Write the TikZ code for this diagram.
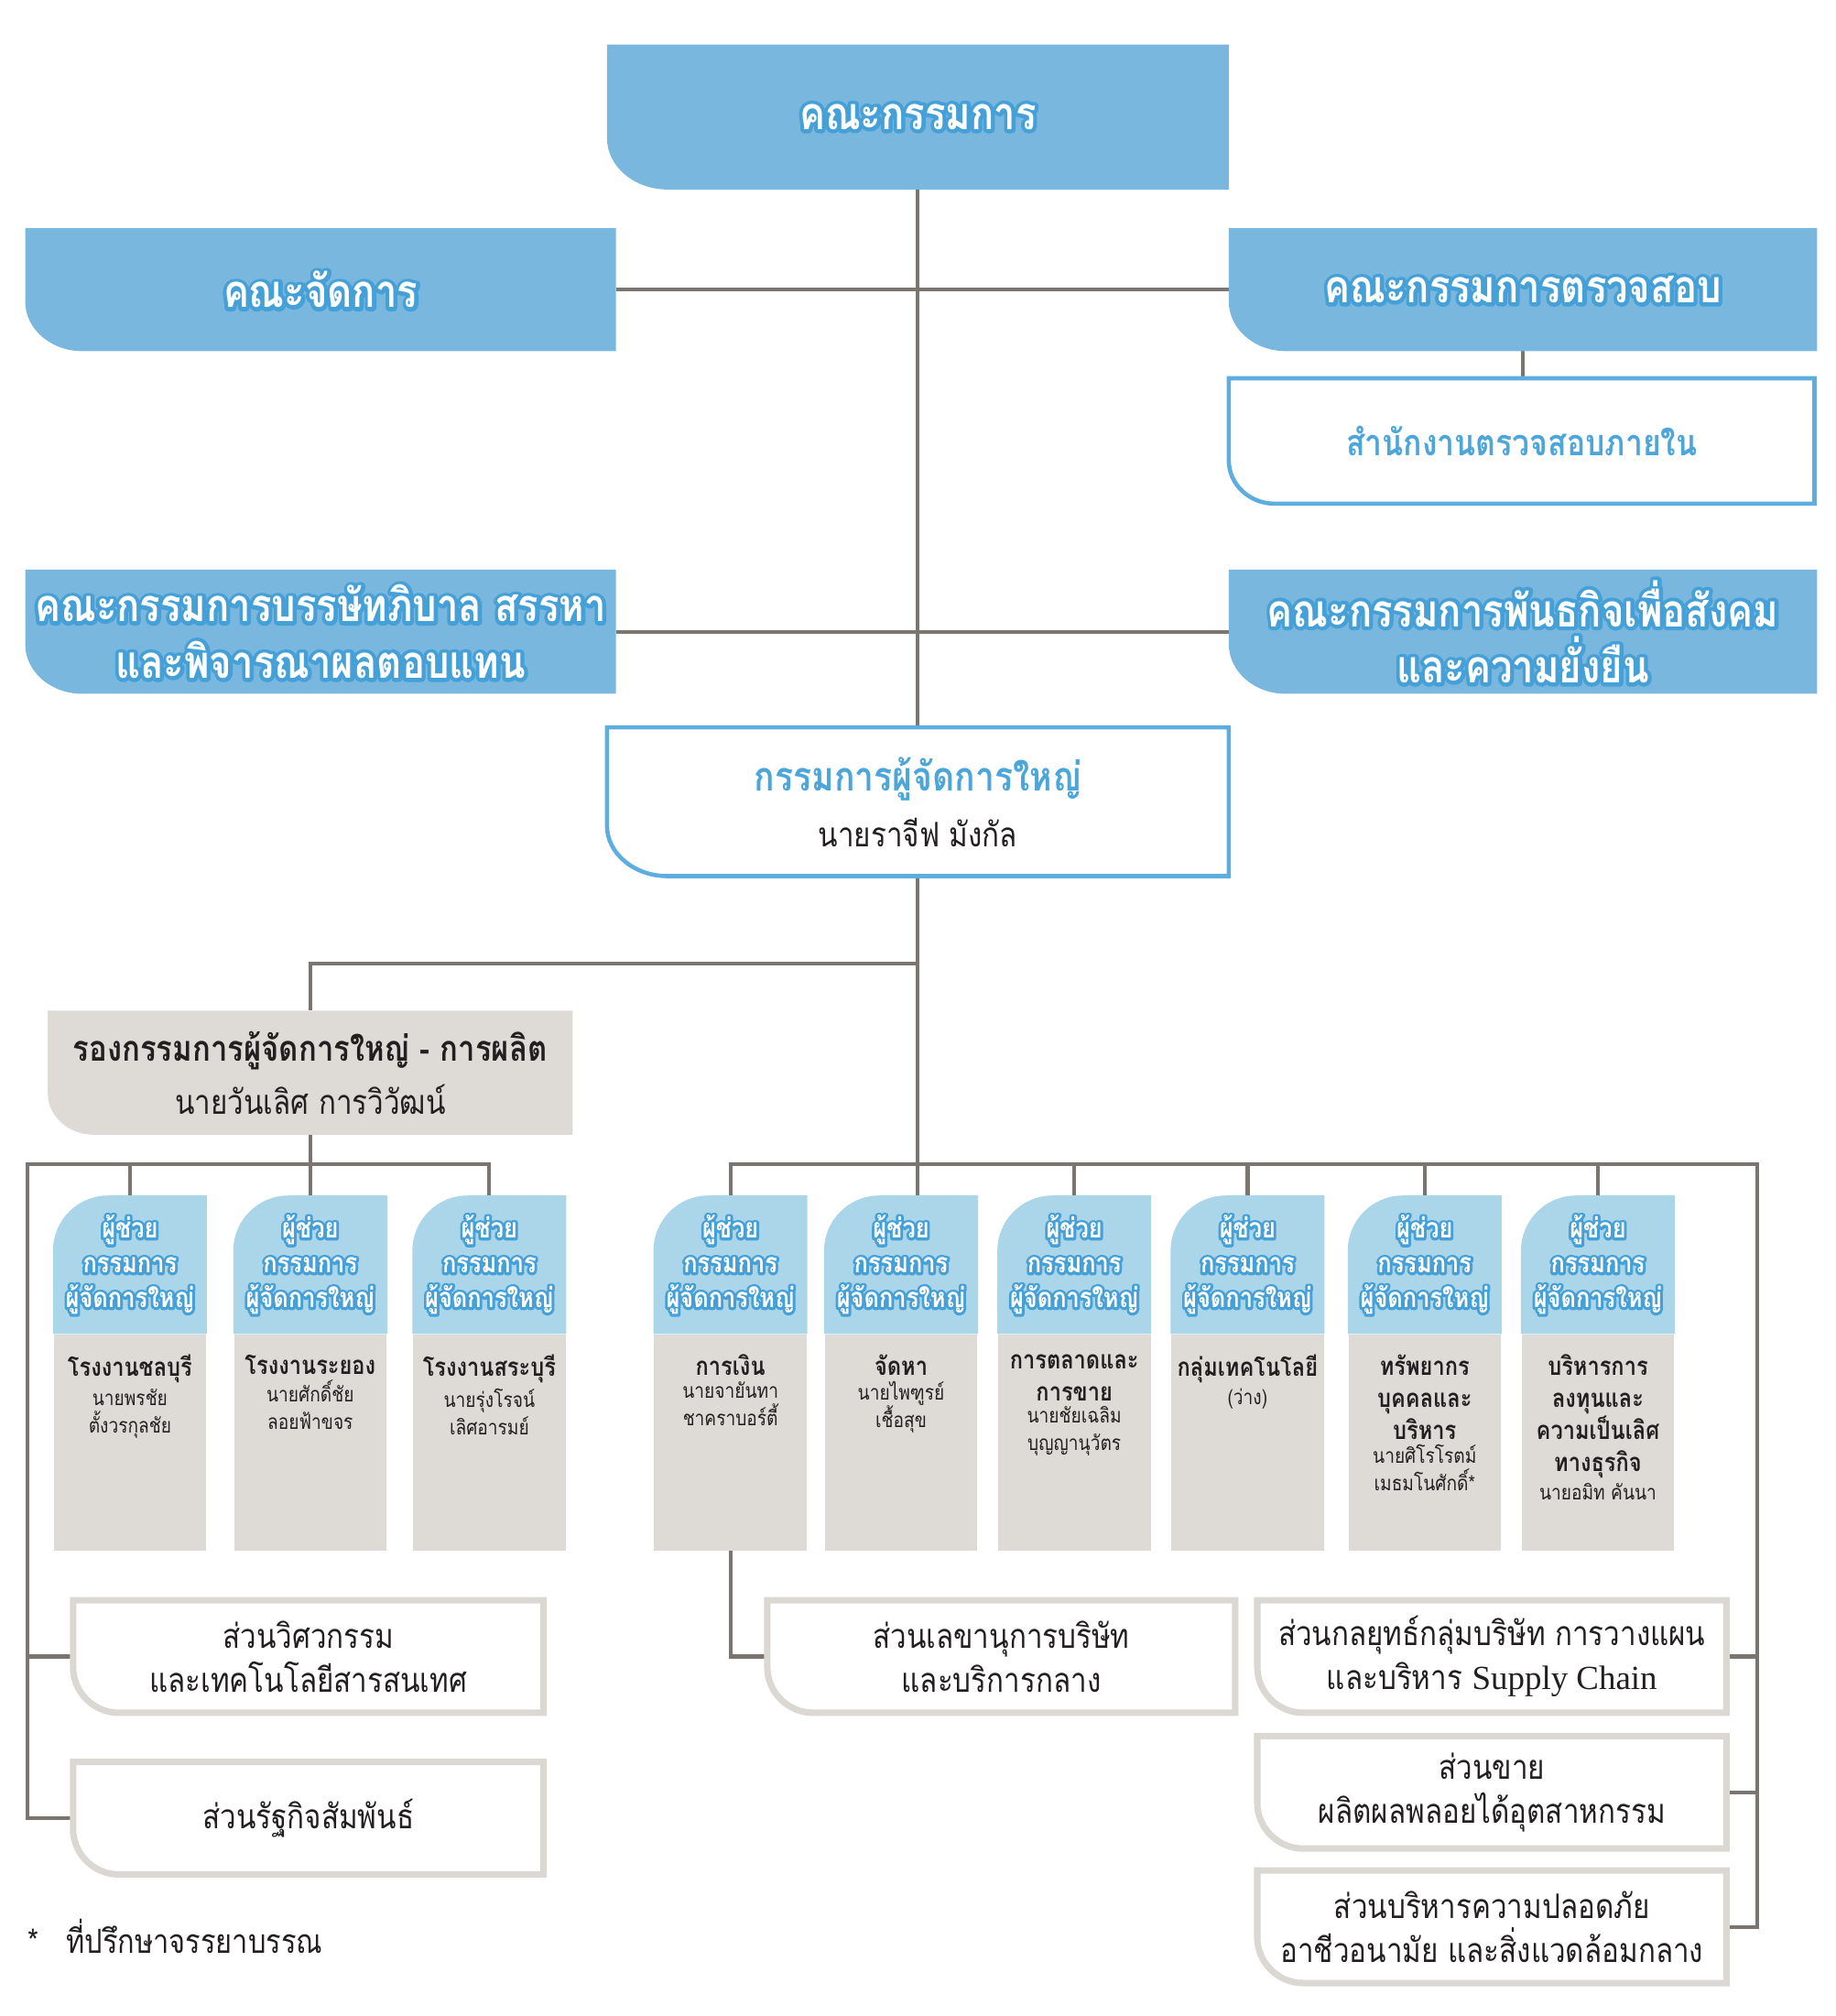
\documentclass[tikz,border=0pt]{standalone}
\usepackage{fontspec}
\setmainfont{Loma}[Script=Thai, FakeStretch=0.85]
\newfontfamily\latinfont{Liberation Serif}
\usetikzlibrary{positioning,backgrounds}

\definecolor{boardblue}{HTML}{79B7DE}
\definecolor{paleblue}{HTML}{ABD5E8}
\definecolor{titleblue}{HTML}{4CA6DA}
\definecolor{frameblue}{HTML}{5DADDE}
\definecolor{stonegrey}{HTML}{DEDAD6}
\definecolor{framegrey}{HTML}{DBD7D2}
\definecolor{wiregrey}{HTML}{7A7571}
\definecolor{inkblack}{HTML}{231F20}

% one unit of the grid
\def\gu{0.01412cm}

% white text with a blue rim: a stroked copy under the filled text
\def\halowidth{2}
\newcommand{\halo}[1]{\leavevmode\rlap{\special{pdf:literal direct 1 j 0.271 0.627 0.847 RG \halowidth\space w 1 Tr}#1\special{pdf:literal direct 0 Tr}}#1}

% box with the bottom left corner rounded
\newcommand{\cornerbox}[4]{%
  \path[#1] (#2.north west) -- (#2.north east) -- (#2.south east)
    -- ([xshift=#3]#2.south west)
    .. controls ([xshift=.45*#3]#2.south west) and ([yshift=.45*#4]#2.south west)
    .. ([yshift=#4]#2.south west) -- cycle;}
% box with the top left corner rounded
\newcommand{\capbox}[4]{%
  \path[#1] (#2.south west) -- ([yshift=-#4]#2.north west)
    .. controls ([yshift=-.45*#4]#2.north west) and ([xshift=.45*#3]#2.north west)
    .. ([xshift=#3]#2.north west) -- (#2.north east) -- (#2.south east) -- cycle;}

\newcommand\fntboard{\bfseries\fontsize{14}{17.5}\selectfont\def\halowidth{2.3}}
\newcommand\fntmd{\bfseries\fontsize{12.5}{17.3}\selectfont}
\newcommand\fntvp{\bfseries\fontsize{11}{16.5}\selectfont}
\newcommand\fntperson{\mdseries\fontsize{10.5}{13}\selectfont\color{inkblack}}
\newcommand\fntasst{\bfseries\fontsize{8.5}{10.8}\selectfont\def\halowidth{1.6}}
\newcommand\fntunit{\bfseries\fontsize{7.9}{9.9}\selectfont}
\newcommand\fntname{\fontsize{6.4}{8.5}\selectfont}
\newcommand\fntbox{\fontsize{10.5}{13.7}\selectfont}

\begin{document}
\begin{tikzpicture}[
  x=0.01412cm, y=-0.01412cm,
  wire/.style={draw=wiregrey, line width=1.2pt},
  bluehead/.style={text=white, align=center, inner sep=0pt, font=\fntboard},
  whitehead/.style={text=titleblue, align=center, inner sep=0pt, font=\fntmd},
  greyhead/.style={text=inkblack, align=center, inner sep=0pt, font=\fntvp},
  asstcap/.style={text=white, align=center, inner sep=0pt, minimum width=118*\gu, minimum height=106*\gu, font=\fntasst},
  asstbody/.style={fill=stonegrey, inner sep=0pt, minimum width=118*\gu, minimum height=167*\gu},
  unittitle/.style={text=inkblack, align=center, inner sep=0pt, font=\fntunit},
  unitname/.style={text=inkblack, align=center, inner sep=0pt, font=\fntname},
  unitbox/.style={text=inkblack, align=center, inner sep=0pt, minimum width=363*\gu, minimum height=86*\gu, font=\fntbox},
]
\useasboundingbox (0,0) rectangle (1420,1559);

% ========== board and committees ==========
\node[bluehead, minimum width=480*\gu, minimum height=111*\gu] (board) at (710,90.5) {\halo{คณะกรรมการ}};
\node[bluehead, minimum width=456*\gu, minimum height=94*\gu] (mgmt) at (248,224) {\halo{คณะจัดการ}};
\node[bluehead, minimum width=454*\gu, minimum height=94*\gu] (audit) at (1178,224) {\halo{คณะกรรมการตรวจสอบ}};
\node[whitehead, font=\bfseries\fontsize{11.3}{14}\selectfont, minimum width=452*\gu, minimum height=96*\gu] (internal) at (1177,341) {สำนักงานตรวจสอบภายใน};
\node[bluehead, minimum width=456*\gu, minimum height=95*\gu] (govern) at (248,488.5) {\halo{คณะกรรมการบรรษัทภิบาล สรรหา}\\\halo{และพิจารณาผลตอบแทน}};
\node[bluehead, minimum width=454*\gu, minimum height=95*\gu] (csr) at (1178,488.5) {\halo{คณะกรรมการพันธกิจเพื่อสังคม}\\\halo{และความยั่งยืน}};

% ========== president and vice president ==========
\node[whitehead, minimum width=480*\gu, minimum height=114*\gu] (md) at (710,620) {กรรมการผู้จัดการใหญ่\\{\fntperson นายราจีฟ มังกัล}};
\node[greyhead, minimum width=405*\gu, minimum height=95*\gu] (vp) at (240,829.5) {รองกรรมการผู้จัดการใหญ่ - การผลิต\\{\fntperson นายวันเลิศ การวิวัฒน์}};

% ========== assistant presidents ==========
\foreach \i/\cx in {1/100.5, 2/240, 3/378.5, 4/565, 5/697, 6/831, 7/965, 8/1102, 9/1236} {
  \node[asstcap] (a\i) at (\cx,978) {\halo{ผู้ช่วย}\\\halo{กรรมการ}\\\halo{ผู้จัดการใหญ่}};
  \node[asstbody, below=0pt of a\i] (a\i b) {};
}

\node[unittitle, below=0.22cm of a1] (t1) {โรงงานชลบุรี};
\node[unitname, below=0.05cm of t1] (w1) {นายพรชัย\\ตั้งวรกุลชัย};
\node[unittitle, below=0.22cm of a2] (t2) {โรงงานระยอง};
\node[unitname, below=0.05cm of t2] (w2) {นายศักดิ์ชัย\\ลอยฟ้าขจร};
\node[unittitle, below=0.22cm of a3] (t3) {โรงงานสระบุรี};
\node[unitname, below=0.05cm of t3] (w3) {นายรุ่งโรจน์\\เลิศอารมย์};
\node[unittitle, below=0.22cm of a4] (t4) {การเงิน};
\node[unitname, below=0.05cm of t4] (w4) {นายจายันทา\\ชาคราบอร์ตี้};
\node[unittitle, below=0.22cm of a5] (t5) {จัดหา};
\node[unitname, below=0.05cm of t5] (w5) {นายไพฑูรย์\\เชื้อสุข};
\node[unittitle, below=0.22cm of a6] (t6) {การตลาดและ\\การขาย};
\node[unitname, below=0.05cm of t6] (w6) {นายชัยเฉลิม\\บุญญานุวัตร};
\node[unittitle, below=0.22cm of a7] (t7) {กลุ่มเทคโนโลยี};
\node[unitname, below=0.05cm of t7] (w7) {(ว่าง)};
\node[unittitle, below=0.22cm of a8] (t8) {ทรัพยากร\\บุคคลและ\\บริหาร};
\node[unitname, below=0.05cm of t8] (w8) {นายศิโรโรตม์\\เมธมโนศักดิ์*};
\node[unittitle, below=0.22cm of a9] (t9) {บริหารการ\\ลงทุนและ\\ความเป็นเลิศ\\ทางธุรกิจ};
\node[unitname, below=0.05cm of t9] (w9) {นายอมิท คันนา};

% ========== offices ==========
\node[unitbox] (eng) at (238.5,1281) {ส่วนวิศวกรรม\\และเทคโนโลยีสารสนเทศ};
\node[unitbox] (govrel) at (238.5,1406) {ส่วนรัฐกิจสัมพันธ์};
\node[unitbox, minimum width=361*\gu] (sec) at (774.5,1281) {ส่วนเลขานุการบริษัท\\และบริการกลาง};
\node[unitbox, minimum width=362*\gu] (strat) at (1154,1281) {ส่วนกลยุทธ์กลุ่มบริษัท การวางแผน\\และบริหาร {\latinfont Supply Chain}};
\node[unitbox, minimum width=362*\gu] (sales) at (1154,1386) {ส่วนขาย\\ผลิตผลพลอยได้อุตสาหกรรม};
\node[unitbox, minimum width=362*\gu] (safety) at (1154,1490) {ส่วนบริหารความปลอดภัย\\อาชีวอนามัย และสิ่งแวดล้อมกลาง};

\node[font=\fontsize{10.3}{13}\selectfont, text=inkblack, anchor=west, inner sep=0pt] (note) at (21,1497) {*\hspace{0.3cm}ที่ปรึกษาจรรยาบรรณ};

\begin{scope}[on background layer]
  % connectors
  \coordinate (vpjoin) at (710,745);
  \coordinate (lbus) at (21,900);
  \coordinate (rbus) at (1359,900);
  \draw[wire] (board) -- (md);
  \draw[wire] (mgmt) -- (audit);
  \draw[wire] (govern) -- (csr);
  \draw[wire] (audit.south) -- (audit.south |- internal.north);
  \draw[wire] (md.south) -- (vpjoin) -| (vp.north);
  \draw[wire] (md.south) -- (md.south |- a5.north);
  \draw[wire] (vp) -- (a2);
  \draw[wire] (a3.north) |- (lbus) |- (govrel.west);
  \draw[wire] (a1.north) -- (a1.north |- lbus);
  \draw[wire] (eng.west) -- (eng.west -| lbus);
  \draw[wire] (a4.north) |- (rbus) |- (safety.east);
  \foreach \i in {6,7,8,9} {
    \draw[wire] (a\i.north) -- (a\i.north |- rbus);
  }
  \draw[wire] (strat.east) -- (strat.east -| rbus);
  \draw[wire] (sales.east) -- (sales.east -| rbus);
  \draw[wire] (a4b.south) |- (sec.west);
  % box shapes
  \cornerbox{fill=boardblue}{board}{0.66cm}{0.56cm}
  \cornerbox{fill=boardblue}{mgmt}{0.62cm}{0.54cm}
  \cornerbox{fill=boardblue}{audit}{0.62cm}{0.54cm}
  \cornerbox{fill=boardblue}{govern}{0.62cm}{0.54cm}
  \cornerbox{fill=boardblue}{csr}{0.62cm}{0.54cm}
  \cornerbox{fill=white, draw=frameblue, line width=1.3pt}{internal}{0.5cm}{0.47cm}
  \cornerbox{fill=white, draw=frameblue, line width=1.3pt}{md}{0.66cm}{0.55cm}
  \cornerbox{fill=stonegrey}{vp}{0.5cm}{0.45cm}
  \foreach \i in {1,...,9} {
    \capbox{fill=paleblue}{a\i}{0.6cm}{0.6cm}
  }
  \foreach \n in {eng,govrel,sec,strat,sales,safety} {
    \cornerbox{fill=white, draw=framegrey, line width=2pt}{\n}{0.5cm}{0.5cm}
  }
\end{scope}
\end{tikzpicture}
\end{document}
